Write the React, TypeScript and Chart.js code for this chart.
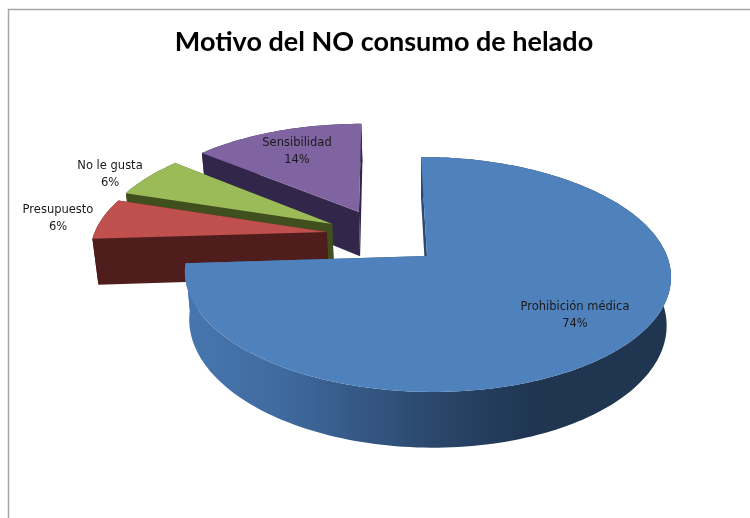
import React, { useEffect, useRef } from "react";
import { Chart, registerables } from "chart.js";

Chart.register(...registerables);

const categories = ["Prohibición médica", "Presupuesto", "No le gusta", "Sensibilidad"];
const shares = [74, 6, 6, 14];
const explosion = [0, 103, 111, 164];
const topColors = ["#4f81bd", "#c0504d", "#9bbb59", "#8064a2"];
const wallColors = ["#1f3550", "#4f1e1c", "#3f4f1e", "#32264b"];

// look of the tilted 3D pie
const RADIUS = 240;
const ORIGIN = { x: 427, y: 256 };
const SQUASH = 114.6;
const DEPTH = 47;
const PERSP_Y = 0.157;
const SHEAR = 6;
const DEPTH_SHRINK = 0.018;
const LIFT = [0, -0.1625, -0.0685, 0.21];
const LABEL_AT = [
  [575, 307],
  [58, 210],
  [110, 166],
  [297, 143],
];

function project(X: number, Y: number, depth = 0) {
  const w = 1 - PERSP_Y * Y;
  const shrink = 1 - (DEPTH_SHRINK * depth) / DEPTH;
  return {
    x: ORIGIN.x + ((RADIUS * X) / w) * shrink + SHEAR * Y,
    y: ORIGIN.y + (SQUASH * Y + depth) / w,
  };
}

function fillWall(ctx: any, pts: [number, number][]) {
  ctx.beginPath();
  pts.forEach(([x, y], k) => {
    const p = project(x, y);
    if (k === 0) ctx.moveTo(p.x, p.y);
    else ctx.lineTo(p.x, p.y);
  });
  for (let k = pts.length - 1; k >= 0; k--) {
    const p = project(pts[k][0], pts[k][1], DEPTH);
    ctx.lineTo(p.x, p.y);
  }
  ctx.closePath();
  ctx.fill();
}

const pie3d = {
  id: "pie3d",
  beforeDraw(chart: any) {
    const { ctx, width, height } = chart;
    ctx.save();
    ctx.strokeStyle = "#a6a6a6";
    ctx.lineWidth = 1.5;
    ctx.beginPath();
    ctx.moveTo(8.5, height);
    ctx.lineTo(8.5, 9.5);
    ctx.lineTo(width, 9.5);
    ctx.stroke();
    ctx.restore();
  },
  beforeDatasetsDraw(chart: any) {
    const { ctx } = chart;
    const arcs = chart.getDatasetMeta(0).data;
    const total = shares.reduce((a, b) => a + b, 0);
    for (let i = arcs.length - 1; i >= 0; i--) {
      const arc = arcs[i];
      const { startAngle, endAngle, outerRadius } = arc.getProps(["startAngle", "endAngle", "outerRadius"], true);
      const mid = (startAngle + endAngle) / 2;
      const off = arc.options.offset / outerRadius;
      const ax = Math.cos(mid) * off;
      const ay = Math.sin(mid) * off + LIFT[i];
      const rim: [number, number][] = [];
      const steps = Math.max(12, Math.round((endAngle - startAngle) * 40));
      for (let s = 0; s <= steps; s++) {
        const t = startAngle + ((endAngle - startAngle) * s) / steps;
        rim.push([ax + Math.cos(t), ay + Math.sin(t)]);
      }
      let wallFill: any = wallColors[i];
      if (i === 0) {
        const g = ctx.createLinearGradient(186, 0, 670, 0);
        g.addColorStop(0, "#4776ae");
        g.addColorStop(0.2, "#3f6a9f");
        g.addColorStop(0.52, "#2a466a");
        g.addColorStop(0.72, "#1f3550");
        g.addColorStop(1, "#1f3550");
        wallFill = g;
      }
      ctx.save();
      ctx.fillStyle = wallFill;
      fillWall(ctx, [[ax, ay], rim[0]]);
      fillWall(ctx, [[ax, ay], rim[rim.length - 1]]);
      fillWall(ctx, rim);
      ctx.fillStyle = arc.options.backgroundColor;
      ctx.beginPath();
      const a0 = project(ax, ay);
      ctx.moveTo(a0.x, a0.y);
      rim.forEach(([x, y]) => {
        const p = project(x, y);
        ctx.lineTo(p.x, p.y);
      });
      ctx.closePath();
      ctx.fill();
      ctx.restore();
    }
    ctx.save();
    ctx.fillStyle = "#1a1a1a";
    ctx.font = '11.5px "DejaVu Sans"';
    ctx.textAlign = "center";
    ctx.textBaseline = "middle";
    categories.forEach((name, i) => {
      const [lx, ly] = LABEL_AT[i];
      ctx.fillText(name, lx, ly);
      ctx.fillText(`${Math.round((shares[i] / total) * 100)}%`, lx, ly + 17);
    });
    ctx.restore();
    return false;
  },
};

export default function App() {
  const ref = useRef<HTMLCanvasElement>(null);
  useEffect(() => {
    const chart = new Chart(ref.current as HTMLCanvasElement, {
      type: "pie",
      data: {
        labels: categories,
        datasets: [
          {
            data: shares,
            backgroundColor: topColors,
            offset: explosion,
            radius: RADIUS,
            borderWidth: 0,
          } as any,
        ],
      },
      options: {
        animation: false,
        responsive: false,
        layout: { padding: { left: 18 } },
        plugins: {
          legend: { display: false },
          tooltip: { enabled: false },
          title: {
            display: true,
            text: "Motivo del NO consumo de helado",
            color: "#000000",
            font: { family: "Lato", weight: "bold", size: 27 },
            padding: { top: 26, bottom: 10 },
          },
        },
      },
      plugins: [pie3d],
    } as any);
    return () => chart.destroy();
  }, []);
  return (
    <canvas
      ref={ref}
      width={750}
      height={518}
      style={{ position: "absolute", left: 0, top: 0, width: 750, height: 518, filter: "blur(0.4px)" }}
    />
  );
}
